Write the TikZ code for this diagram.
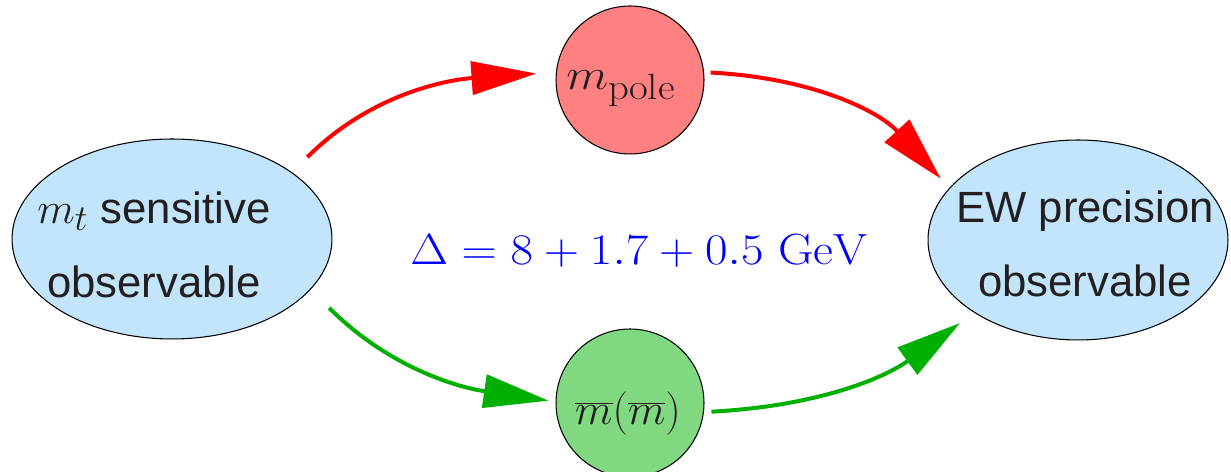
\documentclass[tikz,border=0pt]{standalone}
\usepackage{fontspec}
\setsansfont{Liberation Sans}
\usetikzlibrary{arrows.meta,shapes.geometric}
\definecolor{ellfill}{RGB}{194,229,252}
\definecolor{polefill}{RGB}{255,128,128}
\definecolor{msbfill}{RGB}{128,216,128}
\definecolor{arrred}{RGB}{255,0,0}
\definecolor{arrgreen}{RGB}{0,176,0}
\definecolor{txt}{RGB}{35,31,32}
\begin{document}
\begin{tikzpicture}[x=0.02cm,y=0.02cm,
  obs/.style={ellipse, draw=black, line width=0.6pt, fill=ellfill, inner sep=0pt},
  mass/.style={circle, draw=black, line width=0.6pt, inner sep=0pt, minimum size=2.96cm},
  lbl/.style={text=txt, font=\fontsize{24.88}{42}\selectfont\sffamily, align=center, inner sep=0pt},
  mlbl/.style={text=txt, font=\fontsize{24.88}{30}\selectfont, inner sep=0pt},
  conn/.style={line width=0.08cm, -{Triangle[length=1.3cm,width=0.66cm]}},
]
\useasboundingbox (0,0) rectangle (1231,472);
\node[obs, minimum width=6.4cm, minimum height=4cm] (L) at (172,233) {};
\node[obs, minimum width=6cm, minimum height=4cm] (R) at (1078,232) {};
\node[mass, fill=polefill] (P) at (630,392) {};
\node[mass, fill=msbfill] (G) at (630,69) {};
\node[lbl] (Ltxt) at (154,227.5) {$m_t$ sensitive\\observable};
\node[lbl] (Rtxt) at (1085,228.5) {EW precision\\observable};
\node[mlbl] (Ptxt) at (621,383) {\scalebox{1.12}[1]{$m_{\mathrm{pole}}$}};
\node[mlbl] (Gtxt) at (628,58) {$\overline{m}(\overline{m})$};
\node[mlbl, text=blue] (D) at (639,221) {\scalebox{1.12}[1]{$\Delta = 8 + 1.7 + 0.5\ \mathrm{GeV}$}};
\draw[conn, arrred, shorten <=0.43cm, shorten >=0.39cm] (L.29) to[out=45,in=184] (P.174.5);
\draw[conn, arrred, shorten <=0.13cm, shorten >=0.25cm] (P.6.4) to[out=-3,in=132.5] (R.158.2);
\draw[conn, arrgreen, shorten <=0.52cm, shorten >=0.14cm] (L.-20.75) to[out=-45,in=171.6] (G.179.3);
\draw[conn, arrgreen, shorten <=0.15cm, shorten >=0.35cm] (G.-7.7) to[out=3,in=216] (R.215.4);
\end{tikzpicture}
\end{document}
